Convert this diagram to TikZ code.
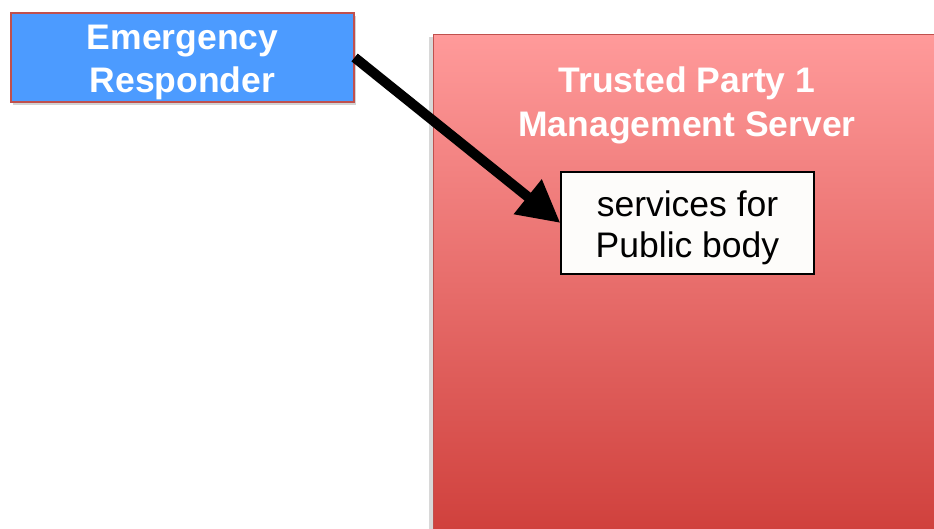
\documentclass[tikz,border=0pt]{standalone}
\usepackage{fontspec}
\setmainfont{Liberation Sans}
\usetikzlibrary{arrows.meta,shadows}
\definecolor{erblue}{RGB}{76,155,255}
\definecolor{boxred}{RGB}{192,80,77}
\definecolor{tptop}{RGB}{255,154,154}
\definecolor{tpbot}{RGB}{207,63,59}
\definecolor{svcfill}{RGB}{253,252,250}
\tikzset{
  actor/.style={draw=boxred, line width=1.2pt, fill=erblue, inner sep=0pt,
    drop shadow={shadow xshift=2pt, shadow yshift=-3pt, opacity=0.35}},
  actortext/.style={text=white, font=\bfseries\fontsize{35.5}{43}\selectfont, align=center, inner sep=0pt},
  server/.style={draw=boxred, line width=1pt, top color=tptop, bottom color=tpbot, inner sep=0pt},
  servertitle/.style={text=white, font=\bfseries\fontsize{35.5}{44}\selectfont, align=center, inner sep=0pt},
  service/.style={draw=black, line width=1.2pt, fill=svcfill, inner sep=0pt},
  servicetext/.style={font=\fontsize{35.5}{41}\selectfont, align=center, inner sep=0pt},
  flow/.style={line width=10pt, -{Triangle[length=42pt,width=42pt]}}
}
\begin{document}
\begin{tikzpicture}[x=1pt,y=-1pt]
\useasboundingbox (0,0) rectangle (934,529);
\begin{scope}
\clip (0,0) rectangle (934,529);
\fill[black!30, opacity=0.5] (429,37) rectangle (434,540);
\node[server, minimum width=508pt, minimum height=505pt] (tp) at (687,287.5) {};
\end{scope}
\node[servertitle] (tpt) at (687,105) {Trusted Party 1\\Management Server};
\node[actor, minimum width=343pt, minimum height=89pt] (er) at (182.5,57.5) {};
\node[actortext] (ert) at (182.5,62) {Emergency\\Responder};
\node[service, minimum width=253pt, minimum height=102pt] (svc) at (687.5,223) {};
\node[servicetext] (svct) at (687.5,228) {services for\\Public body};
\draw[flow] (er.east) -- (svc.west);
\end{tikzpicture}
\end{document}
